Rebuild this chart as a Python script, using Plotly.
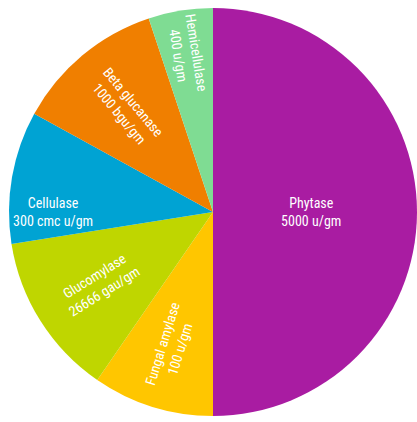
import plotly.graph_objects as go

enzymes = ["Phytase", "Fungal amylase", "Glucomylase", "Cellulase", "Beta glucanase", "Hemicellulase"]
activities = ["5000 u/gm", "100 u/gm", "26666 gau/gm", "300 cmc u/gm", "1000 bgu/gm", "400 u/gm"]
shares = [50.0, 9.6, 12.9, 10.5, 11.9, 5.1]
colors = ["#A91CA2", "#FFC600", "#BFD600", "#00A3D3", "#F07F00", "#7FDC93"]

W, H = 417, 422
x0, x1 = 9, 417       # horizontal extent of the pie box (px)
y_top, y_bot = 5, 419  # vertical extent of the pie box (px)

fig = go.Figure(go.Pie(
    labels=enzymes,
    values=shares,
    text=activities,
    sort=False,
    direction="clockwise",
    rotation=0,
    marker=dict(colors=colors, line=dict(width=0)),
    texttemplate="%{label}<br>%{text}",
    textposition="inside",
    insidetextorientation="radial",
    insidetextfont=dict(family="Roboto Condensed, Roboto, sans-serif", size=14, color="white"),
    hoverinfo="label+text",
    showlegend=False,
    domain=dict(x=[x0 / W, x1 / W], y=[(H - y_bot) / H, (H - y_top) / H]),
))

fig.update_layout(
    width=W, height=H, autosize=False,
    margin=dict(l=0, r=0, t=0, b=0),
    paper_bgcolor="white", plot_bgcolor="white",
    uniformtext=dict(minsize=14, mode="show"),
)

fig.write_html(
    "out.html",
    config={"displayModeBar": False},
    post_script="document.body.style.margin='0';document.body.style.overflow='hidden';",
)
